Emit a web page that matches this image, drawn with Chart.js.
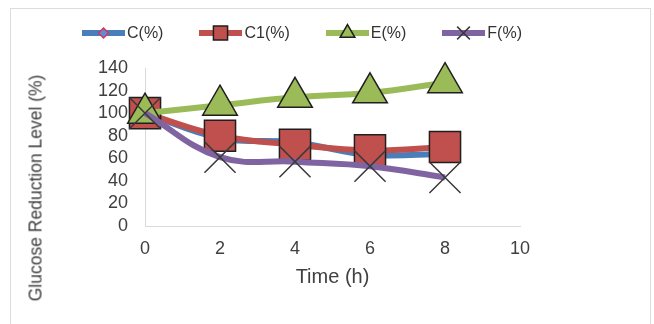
<!DOCTYPE html>
<html>
<head>
<meta charset="utf-8">
<script src="https://cdn.jsdelivr.net/npm/chart.js@4.4.1/dist/chart.umd.min.js"></script>
<style>
  body { margin: 0; background: #fff; }
  #wrap { position: relative; width: 654px; height: 324px; overflow: hidden; font-family: "Liberation Sans", Arial, sans-serif; color: #333; }
  #frame { position: absolute; left: 10px; top: 8px; width: 639px; height: 340px; border: 1px solid #dcdcdc; }
  #legend { position: absolute; left: 82px; top: 22px; display: flex; align-items: center; gap: 36px; font-size: 16px; }
  .item { display: flex; align-items: center; }
  .item canvas { margin-right: 2px; }
  #ytitle { position: absolute; left: 36px; top: 188px; transform: translate(-50%, -50%) rotate(-90deg); font-size: 17.5px; white-space: nowrap; color: #404040; }
  #chart { position: absolute; left: 0; top: 0; }
</style>
</head>
<body>
<div id="wrap">
  <div id="frame"></div>
  <canvas id="chart" width="654" height="324"></canvas>
  <div id="legend"></div>
  <div id="ytitle">Glucose Reduction Level (%)</div>
</div>
<script>
const hours = [0, 2, 4, 6, 8];
const seriesNames = ["C(%)", "C1(%)", "E(%)", "F(%)"];
const cValues = [100, 78, 74, 63, 64];
const c1Values = [100, 80, 72, 67, 70];
const eValues = [100, 107, 114, 118, 127];
const fValues = [100, 61, 57, 53, 43];
const xTicks = [0, 2, 4, 6, 8, 10];
const yTicks = [0, 20, 40, 60, 80, 100, 120, 140];

const allValues = [cValues, c1Values, eValues, fValues];

// line colour, marker fill, marker edge, marker style, radius in chart, radius in legend
const looks = [
    { line: "#4a7ebb", fill: "#5b8fd0", edge: "#d9345f", style: "rectRot", r: 5, lr: 5 },
    { line: "#c0504d", fill: "#c0504d", edge: "#1f1f1f", style: "rect", r: 22, lr: 10 },
    { line: "#9bbb59", fill: "#9bbb59", edge: "#1f1f1f", style: "triangle", r: 20, lr: 8.5 },
    { line: "#8064a2", fill: "#8064a2", edge: "#3a3a3a", style: "crossRot", r: 22, lr: 9 }
];

const datasets = allValues.map((vals, i) => ({
    label: seriesNames[i],
    data: hours.map((h, j) => ({ x: h, y: vals[j] })),
    borderColor: looks[i].line,
    backgroundColor: looks[i].line,
    borderWidth: 6,
    tension: 0.4,
    pointStyle: looks[i].style,
    pointRadius: looks[i].r,
    pointBackgroundColor: looks[i].fill,
    pointBorderColor: looks[i].edge,
    pointBorderWidth: 1.5,
    order: allValues.length - 1 - i,
    clip: false
}));

const axisText = "#404040";

new Chart(document.getElementById("chart").getContext("2d"), {
    type: "line",
    data: { datasets: datasets },
    options: {
        responsive: false,
        animation: false,
        layout: { padding: { left: 45, right: 134, top: 68, bottom: 0 } },
        plugins: {
            legend: { display: false },
            tooltip: { enabled: false }
        },
        scales: {
            x: {
                type: "linear",
                min: xTicks[0],
                max: xTicks[xTicks.length - 1],
                grid: { display: false },
                border: { display: true, color: "#d9d9d9", width: 1 },
                ticks: {
                    stepSize: xTicks[1] - xTicks[0],
                    autoSkip: false,
                    color: axisText,
                    padding: 4,
                    font: { family: "Liberation Sans", size: 18 }
                },
                title: {
                    display: true,
                    text: "Time (h)",
                    color: axisText,
                    font: { family: "Liberation Sans", size: 20 },
                    padding: { top: 0, bottom: 35 }
                },
                afterFit: function (scale) { scale.height = 98; }
            },
            y: {
                min: yTicks[0],
                max: yTicks[yTicks.length - 1],
                grid: { display: false },
                border: { display: true, color: "#d9d9d9", width: 1 },
                ticks: {
                    stepSize: yTicks[1] - yTicks[0],
                    autoSkip: false,
                    color: axisText,
                    padding: 9,
                    font: { family: "Liberation Sans", size: 18 }
                },
                afterFit: function (scale) { scale.width = 100; }
            }
        }
    }
});

// legend: line with the marker in the middle, then the name
const legendBox = document.getElementById("legend");
seriesNames.forEach((name, i) => {
    const item = document.createElement("div");
    item.className = "item";
    const icon = document.createElement("canvas");
    icon.width = 43;
    icon.height = 22;
    const ctx = icon.getContext("2d");
    ctx.strokeStyle = looks[i].line;
    ctx.lineWidth = 6;
    ctx.beginPath();
    ctx.moveTo(0, 11);
    ctx.lineTo(43, 11);
    ctx.stroke();
    ctx.fillStyle = looks[i].fill;
    ctx.strokeStyle = looks[i].edge;
    ctx.lineWidth = 1.5;
    Chart.helpers.drawPoint(ctx, { pointStyle: looks[i].style, radius: looks[i].lr, rotation: 0, borderWidth: 1.5 }, 21.5, 11);
    const label = document.createElement("span");
    label.textContent = name;
    item.appendChild(icon);
    item.appendChild(label);
    legendBox.appendChild(item);
});
</script>
</body>
</html>
